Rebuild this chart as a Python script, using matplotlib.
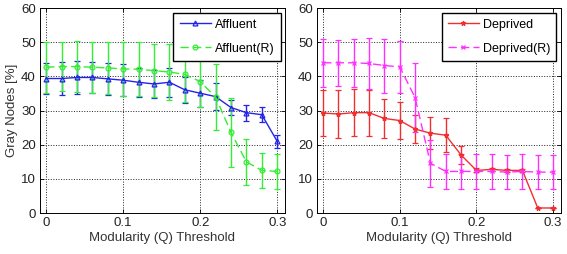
import matplotlib
matplotlib.use('Agg')
import matplotlib.pyplot as plt
import numpy as np

plt.rcParams['font.family'] = ['Liberation Sans', 'DejaVu Sans']

# --- data -------------------------------------------------------------------
thresholds = [0.00, 0.02, 0.04, 0.06, 0.08, 0.10, 0.12, 0.14,
              0.16, 0.18, 0.20, 0.22, 0.24, 0.26, 0.28, 0.30]

affluent = [39.4, 39.4, 39.7, 39.7, 39.3, 38.9, 38.3, 37.8,
            38.3, 36.1, 35.1, 34.1, 30.9, 29.4, 28.8, 21.0]
affluent_err = [4.6, 4.7, 4.8, 4.6, 4.6, 4.6, 4.3, 4.1,
                4.2, 3.8, 3.9, 3.9, 2.2, 2.3, 2.2, 1.8]

affluent_r = [42.7, 42.9, 42.9, 42.7, 42.5, 42.2, 42.1, 41.7,
              41.3, 40.6, 38.5, 34.0, 23.6, 15.0, 12.5, 12.2]
affluent_r_err = [7.5, 7.1, 7.4, 7.5, 7.5, 7.8, 7.9, 7.8,
                  8.3, 8.0, 7.5, 9.6, 10.0, 6.7, 5.2, 5.2]

deprived = [29.3, 29.0, 29.4, 29.4, 27.7, 27.1, 24.6, 23.4,
            22.8, 17.0, 12.5, 12.8, 12.5, 12.5, 1.5, 1.5]
deprived_err = [6.6, 6.9, 6.8, 6.7, 5.7, 5.4, 4.2, 4.7,
                5.0, 2.5, 0.6, 0.5, 0.5, 0.5, 0.0, 0.0]

deprived_r = [44.0, 44.0, 44.0, 43.8, 43.2, 42.8, 33.8, 14.6,
              12.2, 12.2, 12.2, 12.2, 12.0, 12.2, 12.0, 12.0]
deprived_r_err = [7.0, 6.7, 7.1, 7.6, 7.9, 7.6, 10.2, 6.9,
                  5.0, 5.0, 5.0, 5.0, 5.0, 5.0, 5.0, 5.0]

xticks = [0, 0.1, 0.2, 0.3]
yticks = [0, 10, 20, 30, 40, 50, 60]

FS = 9.5

# --- figure -------------------------------------------------------------------
fig = plt.figure(figsize=(5.67, 2.54), dpi=100)
ax1 = fig.add_axes([0.0705, 0.161, 0.432, 0.807])
ax2 = fig.add_axes([0.559, 0.161, 0.430, 0.807])


def style_axis(ax):
    ax.set_xlim(-0.008, 0.31)
    ax.set_ylim(0, 60)
    ax.set_xticks(xticks)
    ax.set_xticklabels(['0', '0.1', '0.2', '0.3'])
    ax.set_yticks(yticks)
    ax.grid(True, linestyle=':', color='#222222', linewidth=0.7)
    ax.tick_params(direction='in', top=True, right=True, labelsize=FS,
                   length=3, width=0.6, pad=3, labelcolor='#222222')
    for s in ax.spines.values():
        s.set_linewidth(0.7)
    ax.set_xlabel('Modularity (Q) Threshold', fontsize=FS, color='#333333', labelpad=2)


def add_legend(ax):
    handles, labels = ax.get_legend_handles_labels()
    handles = [h[0] for h in handles]  # line + marker only, no error bars
    ax.legend(handles, labels, loc='upper right', fontsize=9, fancybox=False,
              framealpha=1, edgecolor='black', borderaxespad=0.35,
              handlelength=2.5, labelspacing=0.95, handletextpad=0.3,
              borderpad=0.5)


series_kw = dict(capsize=2.5, elinewidth=1.0, linewidth=1.0, markersize=3.5,
                 markerfacecolor='none', markeredgewidth=0.9)

ax1.errorbar(thresholds, affluent, yerr=affluent_err, color='#2424e8',
             marker='^', linestyle='-', label='Affluent', **series_kw)
ax1.errorbar(thresholds, affluent_r, yerr=affluent_r_err, color='#33ee33',
             marker='o', linestyle=(0, (6, 3)), label='Affluent(R)', **series_kw)
style_axis(ax1)
ax1.set_ylabel('Gray Nodes [%]', fontsize=FS, color='#333333', labelpad=2)
add_legend(ax1)

ax2.errorbar(thresholds, deprived, yerr=deprived_err, color='#f03030',
             marker='*', linestyle='-', label='Deprived', **series_kw)
ax2.errorbar(thresholds, deprived_r, yerr=deprived_r_err, color='#ff30ff',
             marker='x', linestyle=(0, (6, 3)), label='Deprived(R)', **series_kw)
style_axis(ax2)
add_legend(ax2)

fig.savefig('out.png', dpi=100)
